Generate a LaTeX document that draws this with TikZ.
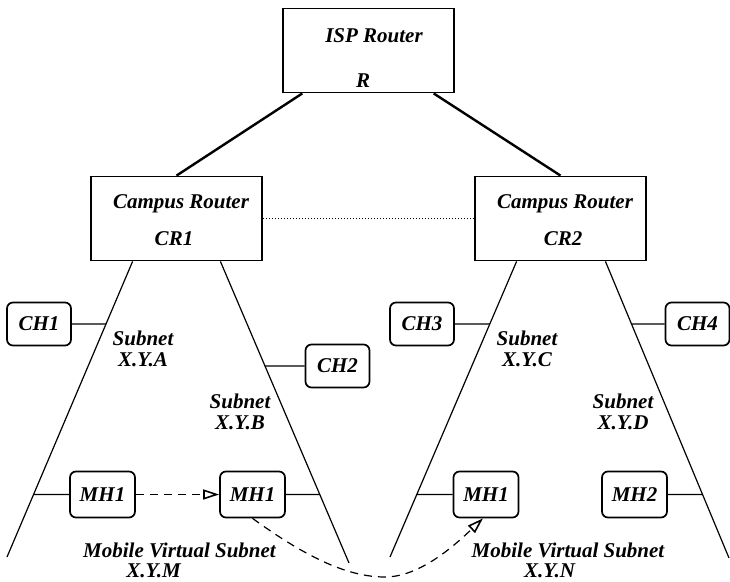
\documentclass[tikz,border=0pt]{standalone}
\usepackage{fontspec}
\setmainfont{Liberation Serif}
\usetikzlibrary{arrows.meta,calc,intersections}

\begin{document}
\begin{tikzpicture}[x=1pt,y=-1pt,
  lbl/.style={font=\fontsize{21}{21}\selectfont\bfseries\itshape, inner sep=0pt, align=center},
  router/.style={draw, line width=1.8pt, minimum width=171pt, minimum height=84pt, inner sep=0pt},
  host/.style={draw, line width=1.7pt, rounded corners=6pt, minimum width=64pt, minimum height=43pt,
               inner sep=0pt, font=\fontsize{21}{21}\selectfont\bfseries\itshape},
  mobile/.style={host, minimum width=65pt, minimum height=46pt},
  leg/.style={line width=1.2pt},
  uplink/.style={line width=2.4pt},
  stub/.style={line width=1.2pt},
  move/.style={line width=1.2pt, dash pattern=on 8pt off 6pt,
               -{Triangle[open,length=16pt,width=10pt,line width=1.6pt]}},
]
\useasboundingbox (0,0) rectangle (730,581);

% routers
\node[router] (R) at (368.5,50.5) {};
\node[lbl, anchor=base] (Rname) at (374,42) {ISP Router};
\node[lbl, anchor=base] (Rid) at (363,87) {R};

\node[router] (CR1) at (176.5,218.5) {};
\node[lbl, anchor=base] (CR1name) at (181,208) {Campus Router};
\node[lbl, anchor=base] (CR1id) at (174,245) {CR1};

\node[router] (CR2) at (560.5,218.5) {};
\node[lbl, anchor=base] (CR2name) at (565,208) {Campus Router};
\node[lbl, anchor=base] (CR2id) at (563,245) {CR2};

% uplinks to the ISP router
\draw[uplink] ($(R.south west)!0.117!(R.south east)$) -- (CR1.north);
\draw[uplink] ($(R.south west)!0.877!(R.south east)$) -- (CR2.north);

% link between the campus routers
\draw[dotted, line width=1pt] (CR1.east) -- (CR2.west);

% subnet legs
\coordinate (a1) at ($(CR1.south west)!0.246!(CR1.south east)$);
\coordinate (a2) at (7,557);
\coordinate (b1) at ($(CR1.south west)!0.754!(CR1.south east)$);
\coordinate (b2) at (349,563);
\coordinate (c1) at ($(CR2.south west)!0.246!(CR2.south east)$);
\coordinate (c2) at (390,557);
\coordinate (d1) at ($(CR2.south west)!0.76!(CR2.south east)$);
\coordinate (d2) at (729,558);

\draw[leg, name path=legA] (a1) -- (a2);
\draw[leg, name path=legB] (b1) -- (b2);
\draw[leg, name path=legC] (c1) -- (c2);
\draw[leg, name path=legD] (d1) -- (d2);

% hosts
\node[host] (CH1) at (39,324) {CH1};
\node[host] (CH2) at (337.5,366) {CH2};
\node[host] (CH3) at (422,324) {CH3};
\node[host] (CH4) at (697.5,324) {CH4};

\node[mobile] (MHa) at (102.5,494.5) {MH1};
\node[mobile] (MHb) at (252.5,494.5) {MH1};
\node[mobile] (MHc) at (486,494.5) {MH1};
\node[mobile] (MH2) at (634.5,494.5) {MH2};

% host attachments to the subnets
\path[name path=hCH1] (CH1.east) -- ++(120,0);
\path[name path=hCH2] (CH2.west) -- ++(-120,0);
\path[name path=hCH3] (CH3.east) -- ++(120,0);
\path[name path=hCH4] (CH4.west) -- ++(-120,0);
\path[name path=hMHa] (MHa.west) -- ++(-120,0);
\path[name path=hMHb] (MHb.east) -- ++(120,0);
\path[name path=hMHc] (MHc.west) -- ++(-120,0);
\path[name path=hMH2] (MH2.east) -- ++(120,0);

\path[name intersections={of=legA and hCH1, by=pCH1}];
\path[name intersections={of=legB and hCH2, by=pCH2}];
\path[name intersections={of=legC and hCH3, by=pCH3}];
\path[name intersections={of=legD and hCH4, by=pCH4}];
\path[name intersections={of=legA and hMHa, by=pMHa}];
\path[name intersections={of=legB and hMHb, by=pMHb}];
\path[name intersections={of=legC and hMHc, by=pMHc}];
\path[name intersections={of=legD and hMH2, by=pMH2}];

\draw[stub] (CH1.east) -- (pCH1);
\draw[stub] (CH2.west) -- (pCH2);
\draw[stub] (CH3.east) -- (pCH3);
\draw[stub] (CH4.west) -- (pCH4);
\draw[stub] (MHa.west) -- (pMHa);
\draw[stub] (MHb.east) -- (pMHb);
\draw[stub] (MHc.west) -- (pMHc);
\draw[stub] (MH2.east) -- (pMH2);

% movements of the mobile host
\draw[move] (MHa.east) -- (MHb.west);
\coordinate (dip) at (385,577);
\draw[move] (MHb.south) .. controls (310,560) and (350,577) .. (dip)
  .. controls (420,577) and (455,545) .. ($(MHc.south)+(-3,0)$);

% subnet labels
\node[lbl] (sA) at (143,349) {Subnet\\X.Y.A};
\node[lbl] (sB) at (240,412) {Subnet\\X.Y.B};
\node[lbl] (sC) at (527,349) {Subnet\\X.Y.C};
\node[lbl] (sD) at (623,412) {Subnet\\X.Y.D};

\node[lbl, anchor=base] (mvsM) at (179.5,557) {Mobile Virtual Subnet};
\node[lbl, anchor=base] (mvsMid) at (153.5,577) {X.Y.M};
\node[lbl, anchor=base] (mvsN) at (568,557) {Mobile Virtual Subnet};
\node[lbl, anchor=base] (mvsNid) at (549.5,577) {X.Y.N};
\end{tikzpicture}
\end{document}
